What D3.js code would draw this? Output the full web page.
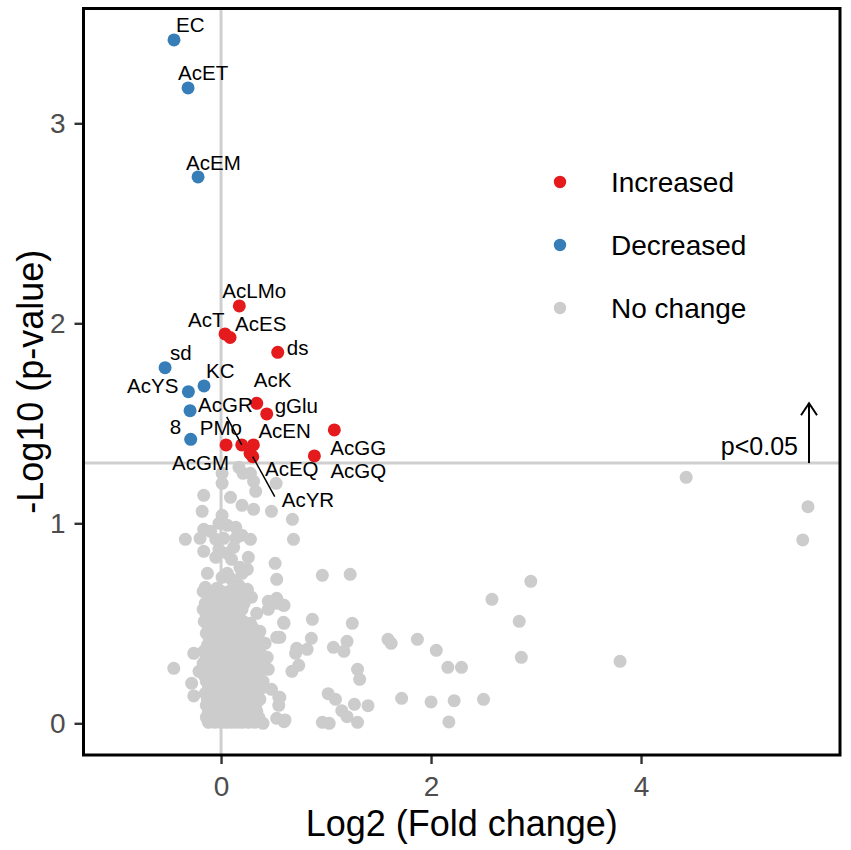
<!DOCTYPE html>
<html>
<head>
<meta charset="utf-8">
<script src="https://cdn.jsdelivr.net/npm/d3@7"></script>
<style>
  body { margin: 0; background: #fff; }
  svg text { font-family: "Liberation Sans", Arial, sans-serif; }
  .axis path { display: none; }
  .axis line { stroke: #333; stroke-width: 2.4px; }
  .axis text { fill: #4d4d4d; font-size: 28px; font-family: "Liberation Sans", Arial, sans-serif; }
  .lab { font-size: 20.5px; fill: #000; }
  .leg { font-size: 28px; fill: #000; }
</style>
</head>
<body>
<svg id="svg" width="851" height="850"></svg>
<script>
// labelled metabolites, log2 fold change (x) and -log10 p (y)
var increased = [
  {name: 'AcLMo', x: 0.174, y: 2.087},
  {name: 'AcT',   x: 0.038, y: 1.947},
  {name: 'AcES',  x: 0.086, y: 1.929},
  {name: 'ds',    x: 0.540, y: 1.855},
  {name: 'AcK',   x: 0.340, y: 1.600},
  {name: 'gGlu',  x: 0.435, y: 1.547},
  {name: 'AcGG',  x: 1.079, y: 1.467},
  {name: 'AcGQ',  x: 0.889, y: 1.337},
  {name: 'AcGM',  x: 0.048, y: 1.392},
  {name: 'PMo',   x: 0.197, y: 1.392},
  {name: 'AcEN',  x: 0.308, y: 1.392},
  {name: 'AcEQ',  x: 0.276, y: 1.350},
  {name: 'AcYR',  x: 0.302, y: 1.333}
];

var decreased = [
  {name: 'EC',   x: -0.448, y: 3.417},
  {name: 'AcET', x: -0.314, y: 3.177},
  {name: 'AcEM', x: -0.219, y: 2.732},
  {name: 'sd',   x: -0.533, y: 1.778},
  {name: 'AcYS', x: -0.311, y: 1.658},
  {name: 'KC',   x: -0.162, y: 1.687},
  {name: 'AcGR', x: -0.295, y: 1.563},
  {name: '8',    x: -0.289, y: 1.420}
];

// unlabelled, not significant
var noChange = [
  [4.43,1.23],[5.59,1.083],[5.54,0.917],[2.95,0.71],[2.58,0.62],[2.84,0.51],[2.86,0.33],[3.80,0.31],
  [0.965,0.74],[1.23,0.745],[0.87,0.52],[1.25,0.50],[0.86,0.425],[1.59,0.42],[1.62,0.40],[1.87,0.42],
  [2.05,0.365],[2.16,0.28],[2.29,0.28],[1.07,0.38],[1.20,0.41],[1.17,0.36],[0.72,0.375],[0.82,0.37],
  [0.71,0.35],[0.74,0.29],[0.675,0.26],[1.30,0.27],[1.32,0.22],[1.72,0.125],[2.0,0.107],[2.22,0.113],
  [2.50,0.12],[2.17,0.007],[1.02,0.148],[1.09,0.12],[1.27,0.095],[1.40,0.088],[1.15,0.063],[1.20,0.033],
  [1.30,0.005],[0.965,0.005],[1.03,0.0],[0.60,0.008],[0.60,0.59],[0.60,0.50],[0.56,0.43],[0.56,0.13],
  [0.69,0.92],[0.68,1.02],
  [0.01,1.25],[0.17,1.28],[0.21,1.25],[0.28,1.25],[0.31,1.21],[0.33,1.16],[0.525,1.20],[0.48,1.06],
  [0.01,1.20],[-0.165,1.14],[0.09,1.13],[0.20,1.09],[0.31,1.07],[-0.18,1.06],[0.01,1.04],[-0.02,1.00],
  [0.06,0.99],[-0.165,0.97],[-0.10,0.96],[0.14,0.98],[0.20,0.94],[-0.34,0.92],[-0.20,0.925],[-0.05,0.92],
  [0.025,0.925],[0.14,0.925],[0.28,0.92],[-0.165,0.86],[-0.02,0.87],[0.06,0.85],[0.26,0.83],[0.10,0.82],
  [0.18,0.78],[0.25,0.77],[0.515,0.80],[0.53,0.72],[0.01,0.73],[0.10,0.72],[-0.15,0.68],[-0.04,0.675],
  [0.17,0.69],[0.25,0.67],[0.12,0.88],[-0.05,0.83],[-0.13,0.75],[0.06,0.75],[0.20,0.75],
  [0.34,0.55],[0.595,0.59],[0.53,0.625],[0.45,0.61],[0.595,0.505],[0.53,0.43],[0.28,0.50],[0.37,0.46],
  [0.42,0.40],[0.44,0.33],[0.45,0.27],[0.40,0.21],[0.48,0.17],[0.55,0.13],[0.55,0.09],[0.53,0.025],
  [0.61,0.017],[0.40,0.0],[-0.45,0.275],[-0.26,0.35],[-0.165,0.36],[-0.21,0.26],[-0.28,0.20],[-0.26,0.137],
  [-0.17,0.66],[-0.08,0.66],[0.0,0.66],[0.08,0.66],[0.17,0.66],[0.25,0.66],
  [-0.12,0.63],[-0.05,0.63],[0.03,0.63],[0.10,0.63],[0.18,0.63],[0.29,0.63],
  [-0.15,0.60],[-0.08,0.60],[-0.01,0.60],[0.06,0.60],[0.14,0.60],[0.22,0.60],[0.53,0.60],
  [-0.17,0.57],[-0.10,0.57],[-0.03,0.57],[0.04,0.57],[0.12,0.57],[0.20,0.57],[0.45,0.57],
  [-0.14,0.54],[-0.07,0.54],[0.0,0.54],[0.08,0.54],[0.16,0.54],
  [-0.16,0.51],[-0.09,0.51],[-0.02,0.51],[0.06,0.51],[0.13,0.51],[0.21,0.51],
  [-0.12,0.48],[-0.05,0.48],[0.02,0.48],[0.09,0.48],[0.16,0.48],[0.23,0.48],[0.30,0.48],
  [-0.14,0.45],[-0.08,0.45],[-0.02,0.45],[0.05,0.45],[0.11,0.45],[0.18,0.45],[0.27,0.45],
  [-0.11,0.42],[-0.05,0.42],[0.02,0.42],[0.08,0.42],[0.15,0.42],[0.22,0.42],[0.29,0.42],[0.36,0.42],
  [-0.13,0.39],[-0.07,0.39],[0.0,0.39],[0.06,0.39],[0.13,0.39],[0.19,0.39],[0.26,0.39],[0.33,0.39],
  [-0.10,0.36],[-0.03,0.36],[0.04,0.36],[0.10,0.36],[0.16,0.36],[0.22,0.36],[0.30,0.36],[0.37,0.36],
  [-0.14,0.33],[-0.08,0.33],[-0.01,0.33],[0.05,0.33],[0.11,0.33],[0.18,0.33],[0.24,0.33],[0.31,0.33],
  [-0.17,0.30],[-0.11,0.30],[-0.05,0.30],[0.02,0.30],[0.08,0.30],[0.14,0.30],[0.21,0.30],[0.28,0.30],[0.36,0.30],
  [-0.13,0.27],[-0.07,0.27],[0.0,0.27],[0.06,0.27],[0.12,0.27],[0.19,0.27],[0.26,0.27],[0.33,0.27],
  [-0.16,0.24],[-0.10,0.24],[-0.04,0.24],[0.03,0.24],[0.09,0.24],[0.15,0.24],[0.22,0.24],[0.28,0.24],[0.36,0.24],
  [-0.14,0.21],[-0.08,0.21],[-0.01,0.21],[0.05,0.21],[0.12,0.21],[0.18,0.21],[0.24,0.21],[0.30,0.21],
  [-0.12,0.18],[-0.05,0.18],[0.02,0.18],[0.08,0.18],[0.14,0.18],[0.20,0.18],[0.26,0.18],[0.32,0.18],[0.40,0.18],
  [-0.15,0.15],[-0.10,0.15],[-0.03,0.15],[0.04,0.15],[0.10,0.15],[0.16,0.15],[0.22,0.15],[0.29,0.15],[0.35,0.15],
  [-0.13,0.12],[-0.06,0.12],[0.0,0.12],[0.06,0.12],[0.11,0.12],[0.19,0.12],[0.25,0.12],[0.30,0.12],[0.37,0.12],
  [-0.14,0.09],[-0.09,0.09],[-0.03,0.09],[0.03,0.09],[0.09,0.09],[0.15,0.09],[0.21,0.09],[0.27,0.09],[0.33,0.09],
  [-0.12,0.06],[-0.05,0.06],[0.01,0.06],[0.07,0.06],[0.12,0.06],[0.17,0.06],[0.22,0.06],[0.28,0.06],[0.34,0.06],
  [-0.14,0.03],[-0.08,0.03],[-0.02,0.03],[0.03,0.03],[0.08,0.03],[0.13,0.03],[0.18,0.03],[0.24,0.03],[0.30,0.03],[0.36,0.03],
  [-0.12,0.005],[-0.06,0.005],[0.0,0.005],[0.05,0.005],[0.10,0.005],[0.15,0.005],[0.20,0.005],[0.26,0.005],[0.32,0.005]
];

var xTicks = [0, 2, 4];
var yTicks = [0, 1, 2, 3];
var legendLabels = ['Increased', 'Decreased', 'No change'];
var pCutoff = 0.05;
var cutoffText = 'p<0.05';
var xTitle = 'Log2 (Fold change)';
var yTitle = '-Log10 (p-value)';

// label placement (px from point): [dx, dy, anchor]
var labelNudge = {
  EC: [2, -8], AcET: [-10, -8], AcEM: [-12, -7], sd: [5, -8], AcYS: [-10, 1, 'end'],
  KC: [2, -8], AcGR: [8, 1], '8': [-21, -5],
  AcLMo: [-17, -8], AcT: [-37, -7], AcES: [5, -7], ds: [9, 3], AcK: [-3, -16],
  gGlu: [8, -1], AcGG: [-4, 25], AcGQ: [16, 22], AcGM: [-54, 25], PMo: [-42, -10],
  AcEN: [5, -7], AcEQ: [15, 23], AcYR: [29, 50]
};
var leaders = { PMo: [-15, -28], AcYR: [22, 40] };

var colors = { inc: '#e41a1c', dec: '#377eb8', none: '#cccccc' };
var r = 6.5;

var panel = { left: 83.5, right: 840, top: 8.5, bottom: 755 };

var svg = d3.select('#svg');

var xScale = d3.scaleLinear().domain([-1.31, 5.895]).range([panel.left, panel.right]);
var yScale = d3.scaleLinear().domain([-0.1585, 3.574]).range([panel.bottom, panel.top]);

var yCut = -Math.log10(pCutoff);

// reference lines
svg.append('line')
  .attr('x1', xScale(0)).attr('x2', xScale(0))
  .attr('y1', panel.top).attr('y2', panel.bottom)
  .attr('stroke', '#cfcfcf').attr('stroke-width', 3);
svg.append('line')
  .attr('x1', panel.left).attr('x2', panel.right)
  .attr('y1', yScale(yCut)).attr('y2', yScale(yCut))
  .attr('stroke', '#cfcfcf').attr('stroke-width', 3);

svg.append('g').selectAll('circle')
  .data(noChange)
  .join('circle')
  .attr('cx', function(d) { return xScale(d[0]); })
  .attr('cy', function(d) { return yScale(d[1]); })
  .attr('r', r)
  .attr('fill', colors.none);

var sig = increased.map(function(d) { return Object.assign({c: colors.inc}, d); })
  .concat(decreased.map(function(d) { return Object.assign({c: colors.dec}, d); }));

svg.append('g').selectAll('circle')
  .data(sig)
  .join('circle')
  .attr('cx', function(d) { return xScale(d.x); })
  .attr('cy', function(d) { return yScale(d.y); })
  .attr('r', r)
  .attr('fill', function(d) { return d.c; });

// leader segments
svg.append('g').selectAll('line')
  .data(sig.filter(function(d) { return leaders[d.name]; }))
  .join('line')
  .attr('x1', function(d) { return xScale(d.x); })
  .attr('y1', function(d) { return yScale(d.y); })
  .attr('x2', function(d) { return xScale(d.x) + leaders[d.name][0]; })
  .attr('y2', function(d) { return yScale(d.y) + leaders[d.name][1]; })
  .attr('stroke', '#000').attr('stroke-width', 1.5);

svg.append('g').selectAll('text')
  .data(sig)
  .join('text')
  .attr('class', 'lab')
  .attr('x', function(d) { return xScale(d.x) + labelNudge[d.name][0]; })
  .attr('y', function(d) { return yScale(d.y) + labelNudge[d.name][1]; })
  .attr('text-anchor', function(d) { return labelNudge[d.name][2] || 'start'; })
  .text(function(d) { return d.name; });

// axes
svg.append('g').attr('class', 'axis')
  .attr('transform', 'translate(' + panel.left + ',0)')
  .call(d3.axisLeft(yScale).tickValues(yTicks).tickFormat(d3.format('d')).tickSize(9).tickPadding(9));
svg.append('g').attr('class', 'axis')
  .attr('transform', 'translate(0,' + panel.bottom + ')')
  .call(d3.axisBottom(xScale).tickValues(xTicks).tickFormat(d3.format('d')).tickSize(9).tickPadding(12));

svg.append('rect')
  .attr('x', panel.left).attr('y', panel.top)
  .attr('width', panel.right - panel.left).attr('height', panel.bottom - panel.top)
  .attr('fill', 'none').attr('stroke', '#000').attr('stroke-width', 3);

svg.append('text')
  .attr('x', (panel.left + panel.right) / 2).attr('y', 836)
  .attr('text-anchor', 'middle')
  .style('font-size', '36px')
  .text(xTitle);
svg.append('text')
  .attr('transform', 'translate(43,' + (panel.top + panel.bottom) / 2 + ') rotate(-90)')
  .attr('text-anchor', 'middle')
  .style('font-size', '36px')
  .text(yTitle);

// p cutoff arrow
var ax = xScale(5.6), ay0 = yScale(yCut), ay1 = yScale(1.6);
svg.append('line')
  .attr('x1', ax).attr('x2', ax).attr('y1', ay0).attr('y2', ay1)
  .attr('stroke', '#000').attr('stroke-width', 2);
svg.append('path')
  .attr('d', 'M' + (ax - 8) + ',' + (ay1 + 12) + 'L' + ax + ',' + ay1 + 'L' + (ax + 8) + ',' + (ay1 + 12))
  .attr('fill', 'none').attr('stroke', '#000').attr('stroke-width', 2);
svg.append('text')
  .attr('x', ax - 11).attr('y', ay0 - 8)
  .attr('text-anchor', 'end')
  .style('font-size', '25px')
  .text(cutoffText);

// legend
var legColors = [colors.inc, colors.dec, colors.none];
var leg = svg.append('g').selectAll('g')
  .data(legendLabels)
  .join('g')
  .attr('transform', function(d, i) { return 'translate(560,' + (182 + i * 63) + ')'; });
leg.append('circle').attr('r', 6.2).attr('fill', function(d, i) { return legColors[i]; });
leg.append('text').attr('class', 'leg')
  .attr('x', 51).attr('dy', '0.35em')
  .text(function(d) { return d; });
</script>
</body>
</html>
